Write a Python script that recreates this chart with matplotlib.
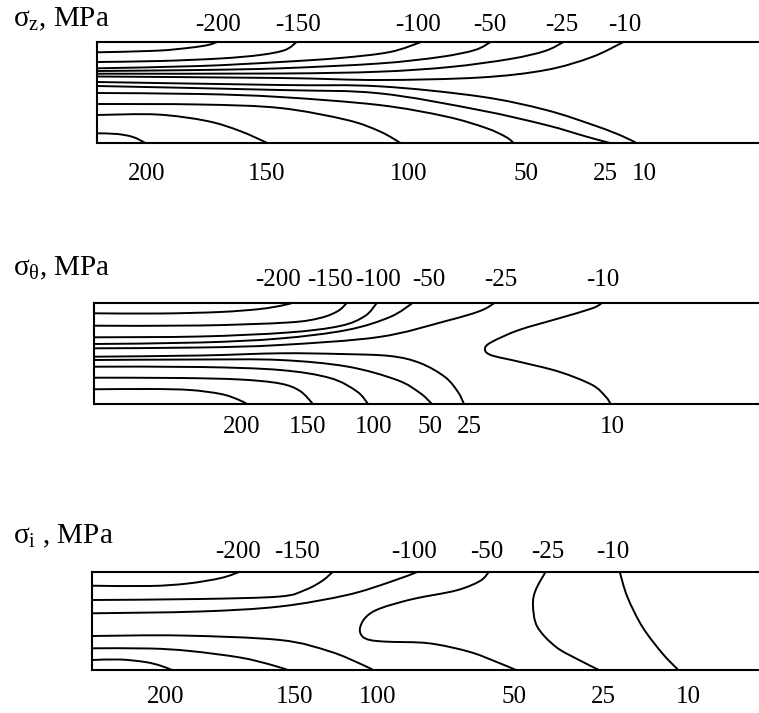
"""
Isolines of residual stresses (sigma_z, sigma_theta, sigma_i) in three strips.
Line traces are read off the source picture in pixel units of that picture.
"""

import matplotlib
matplotlib.use("Agg")
import matplotlib.pyplot as plt
from matplotlib.path import Path
from matplotlib.patches import PathPatch

W, H = 759, 713

plt.rcParams["font.family"] = ["Liberation Serif", "DejaVu Serif"]
plt.rcParams["mathtext.fontset"] = "custom"
plt.rcParams["mathtext.rm"] = "Liberation Serif"
plt.rcParams["mathtext.it"] = "Liberation Serif"

# --- data: isoline traces (x, y) per level ---------------------------------
SIGMA_Z_LINES = {
    -200: [(97, 52.3), (157, 50.7), (190, 47.7), (208, 45), (218, 41.7)],
    -150: [(97, 62), (160, 61), (220, 58.5), (260, 55), (285, 50), (297, 41.7)],
    -100: [(97, 68.3), (200, 66), (280, 62), (340, 58), (390, 52), (422, 41.7)],
    -50: [(97, 71), (200, 70), (280, 68.3), (379, 63.5), (440, 57), (475, 50), (491, 41.7)],
    -25: [(97, 73.7), (280, 73.5), (379, 71.7), (450, 67), (510, 59), (545, 51), (564, 41.7)],
    -10: [(97, 76.5), (280, 78), (379, 80), (480, 77.5), (546, 70), (592, 57), (624, 41.7)],
    10: [(97, 82), (280, 85), (379, 86.3), (480, 96.5), (546, 110), (596, 126), (622, 136), (637, 143.3)],
    25: [(97, 86), (280, 90), (379, 93.3), (479, 110), (546, 125), (586, 136.5), (611, 143.3)],
    50: [(97, 93), (200, 94), (280, 97), (379, 105), (446, 116.5), (486, 128), (506, 137), (514, 143.3)],
    100: [(97, 104), (200, 104.5), (280, 108), (347, 120), (380, 131.5), (401, 143.3)],
    150: [(97, 115), (157, 114.5), (207, 121), (240, 131), (268, 143.3)],
    200: [(97, 133.3), (117, 134), (133, 137), (146, 143.3)],
}

SIGMA_T_LINES = {
    -200: [(94, 313.3), (160, 313.5), (220, 312), (260, 309), (282, 305.5), (293, 302.7)],
    -150: [(94, 325.7), (200, 325.5), (288, 322.5), (320, 318), (338, 311), (347, 302.7)],
    -100: [(94, 337.3), (200, 336.5), (288, 332.5), (340, 326), (365, 316), (377, 302.7)],
    -50: [(94, 344), (200, 342.5), (280, 338.5), (347, 330), (390, 317), (413, 302.7)],
    -25: [(94, 348.3), (200, 347.5), (280, 345), (379, 337), (446, 321), (480, 311), (495, 302.7)],
    -10: [(602.3, 302.7), (592.3, 308.3), (559, 318.3), (519, 330), (492.3, 341.7), (485, 348.3),
          (490.7, 355), (519, 361.7), (559, 371.7), (592.3, 385), (605.7, 396.7), (610.7, 404)],
    25: [(94, 356.7), (200, 355.5), (280, 353.3), (340, 354), (390, 356), (420, 363), (445, 377),
         (458, 392), (464, 404)],
    50: [(94, 360), (200, 359.5), (280, 360), (347, 366.5), (397, 380), (420, 393), (432, 404)],
    100: [(94, 366.7), (200, 367), (280, 370), (330, 378), (357, 391.5), (368, 404)],
    150: [(94, 377.7), (180, 378), (240, 379.5), (280, 383.5), (300, 391), (313, 404)],
    200: [(94, 389.3), (150, 389), (190, 390), (221, 394), (238, 399.5), (247, 404)],
}

SIGMA_I_LINES = {
    -200: [(92.3, 585.7), (150, 586), (188, 583.5), (221, 578), (240, 571.7)],
    -150: [(92.3, 600), (200, 599), (280, 596.5), (305, 590), (322, 581), (333, 571.7)],
    -100: [(92.3, 613.3), (200, 611.5), (280, 606.5), (347, 595), (390, 582), (418, 571.7)],
    -50: [(489, 571.7), (480, 581), (456, 590.5), (413, 599), (380, 608.5), (366, 617), (360, 628),
          (362, 636), (370, 640), (387, 641.7), (429, 643.3), (469, 651.7), (496, 661.7), (516, 670)],
    -25: [(545.7, 571.7), (535.7, 590), (533, 605), (537.3, 626.7), (555.7, 646.7), (579, 660),
          (599, 670)],
    -10: [(619.7, 571.7), (627.3, 596.7), (642.3, 626.7), (662.3, 653.3), (678.3, 670)],
    100: [(92.3, 636), (180, 635.5), (280, 640), (330, 651.5), (363, 665), (373, 670)],
    150: [(92.3, 648.3), (150, 648.5), (190, 651), (240, 657.5), (270, 664.5), (288, 670)],
    200: [(92.3, 660), (120, 659.5), (145, 662), (160, 665.5), (172, 670)],
}

TOP_LEVELS = ["-200", "-150", "-100", "-50", "-25", "-10"]
BOTTOM_LEVELS = ["200", "150", "100", "50", "25", "10"]

# --- layout (pixels of the 759x713 picture) ---------------------------------
PANELS = [
    dict(lines=SIGMA_Z_LINES, box=(97, 41.7, 143.3), title=r"$\sigma_z$, MPa", title_y=26,
         top_x=[218, 298, 418, 490, 562, 625], top_y=31,
         bottom_x=[147, 267, 409, 526, 605, 644], bottom_y=180),
    dict(lines=SIGMA_T_LINES, box=(94, 302.7, 404), title=r"$\sigma_\theta$, MPa", title_y=275,
         top_x=[278, 330, 378, 429, 501, 603], top_y=286,
         bottom_x=[242, 308, 374, 430, 469, 612], bottom_y=433),
    dict(lines=SIGMA_I_LINES, box=(92.3, 571.7, 670), title=r"$\sigma_i$ , MPa", title_y=543,
         top_x=[238, 297, 414, 487, 548, 613], top_y=558,
         bottom_x=[166, 295, 378, 514, 603, 688], bottom_y=703),
]

LABEL_SIZE = 18
TITLE_SIZE = 21
LW = 1.4


def smooth_path(pts):
    """Cubic Bezier path through the traced points (Catmull-Rom tangents)."""
    verts = [pts[0]]
    codes = [Path.MOVETO]
    n = len(pts)
    for i in range(n - 1):
        p0 = pts[max(i - 1, 0)]
        p1 = pts[i]
        p2 = pts[i + 1]
        p3 = pts[min(i + 2, n - 1)]
        c1 = (p1[0] + (p2[0] - p0[0]) / 6, p1[1] + (p2[1] - p0[1]) / 6)
        c2 = (p2[0] - (p3[0] - p1[0]) / 6, p2[1] - (p3[1] - p1[1]) / 6)
        verts += [c1, c2, p2]
        codes += [Path.CURVE4] * 3
    return Path(verts, codes)


def fx(x):
    return x / W


def fy(y):
    return 1 - y / H


fig = plt.figure(figsize=(W / 100, H / 100), dpi=100)

for panel in PANELS:
    left, top, bottom = panel["box"]
    ax = fig.add_axes([fx(left), fy(bottom), 1 - fx(left), (bottom - top) / H])
    ax.set_xlim(left, W)
    ax.set_ylim(bottom, top)
    ax.set_xticks([])
    ax.set_yticks([])
    ax.spines["right"].set_visible(False)
    for side in ["left", "top", "bottom"]:
        ax.spines[side].set_linewidth(1.5)

    for level, pts in panel["lines"].items():
        ax.add_patch(PathPatch(smooth_path(pts), facecolor="none", edgecolor="black",
                               lw=LW, clip_on=False))

    fig.text(fx(13), fy(panel["title_y"]), panel["title"], fontsize=TITLE_SIZE,
             ha="left", va="baseline")
    for lab, x in zip(TOP_LEVELS, panel["top_x"]):
        fig.text(fx(x), fy(panel["top_y"]), lab, fontsize=LABEL_SIZE, ha="center", va="baseline")
    for lab, x in zip(BOTTOM_LEVELS, panel["bottom_x"]):
        fig.text(fx(x), fy(panel["bottom_y"]), lab, fontsize=LABEL_SIZE, ha="center", va="baseline")

fig.savefig("out.png", dpi=100)
